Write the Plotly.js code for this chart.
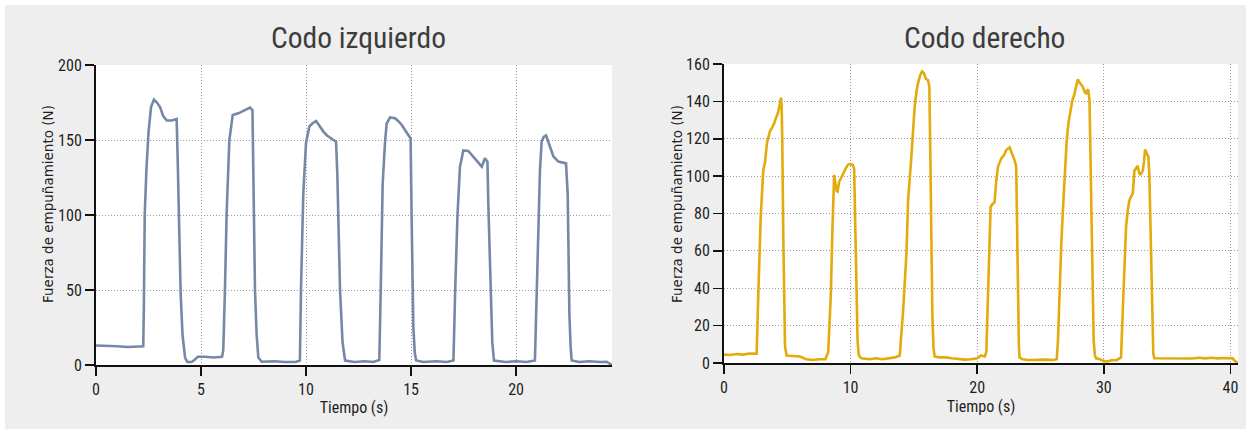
<!DOCTYPE html>
<html>
<head>
<meta charset="utf-8">
<script src="https://cdn.plot.ly/plotly-3.0.1.min.js"></script>
<style>
  html, body { margin: 0; padding: 0; background: #ffffff; }
  #chart { width: 1251px; height: 434px; }
</style>
</head>
<body>
<div id="chart"></div>
<script>
// Grip force over time, left elbow
const leftTime = [
  0, 0.3, 0.6, 1.0, 1.5, 2.0, 2.25, 2.28, 2.32, 2.4, 2.5, 2.62, 2.76, 2.9, 3.05, 3.2, 3.37, 3.6, 3.84,
  3.89, 3.95, 4.03, 4.12, 4.24, 4.35, 4.55, 4.7, 4.85, 5.2, 5.6, 6.0, 6.06, 6.14, 6.22, 6.35, 6.51,
  6.78, 7.1, 7.33, 7.45, 7.49, 7.57, 7.65, 7.73, 7.89, 8.5, 9.0, 9.5, 9.71, 9.76, 9.87, 10.0, 10.16,
  10.3, 10.48, 10.65, 10.83, 11.0, 11.14, 11.3, 11.43, 11.49, 11.56, 11.62, 11.74, 11.86, 12.3, 12.8,
  13.2, 13.49, 13.56, 13.65, 13.76, 13.84, 14.0, 14.24, 14.4, 14.56, 14.72, 14.87, 14.98, 15.03, 15.11,
  15.18, 15.24, 15.6, 16.2, 16.7, 17.02, 17.1, 17.21, 17.33, 17.49, 17.73, 17.97, 18.1, 18.21, 18.37,
  18.52, 18.64, 18.68, 18.79, 18.87, 18.95, 19.5, 20.0, 20.5, 20.9, 20.99, 21.06, 21.14, 21.22, 21.32,
  21.43, 21.62, 21.78, 22.02, 22.2, 22.38, 22.46, 22.54, 22.6, 22.65, 23.0, 23.5, 24.0, 24.32, 24.45, 24.57
];
const leftForce = [
  13, 13, 12.5, 12.5, 12, 12.5, 12.5, 40, 100, 130, 155, 172, 177, 175, 172, 166, 163, 163, 164,
  137, 95, 48, 20, 5, 2, 2, 3.5, 5.5, 5.5, 5, 5.5, 10, 50, 101, 150, 166.7,
  167.8, 170, 171.6, 170, 130, 50, 20, 5, 2.2, 2.5, 2, 2, 3, 50, 114, 148, 159,
  161, 162.7, 159, 155.6, 153, 151.8, 150, 148.9, 128, 80, 50, 15, 3, 2, 2.5,
  2, 3.3, 52, 121, 148, 161, 165, 164.5, 162.5, 160, 156.5, 153, 151, 96.7, 25.6,
  8, 3, 2, 2.5, 2, 3, 48, 99, 132, 143, 142.7, 138.9, 136.5, 134.4, 132.2,
  137.8, 135.5, 107.8, 48, 15, 3, 2, 2.5, 2, 3, 52, 92, 130, 149, 152,
  153, 145.6, 139, 135.6, 134.8, 134.4, 114, 34.4, 12, 3, 2, 2.5, 2, 2.2, 1, 0
];

// Grip force over time, right elbow
const rightTime = [
  0, 0.5, 1.0, 1.5, 2.0, 2.58, 2.71, 2.9, 3.1, 3.25, 3.4, 3.63, 3.8, 3.95, 4.1, 4.27, 4.4, 4.5,
  4.55, 4.6, 4.68, 4.74, 4.82, 4.94, 5.5, 6.0, 6.5, 7.0, 7.5, 8.0, 8.23, 8.44, 8.57, 8.7, 8.8, 8.9,
  8.97, 9.1, 9.25, 9.41, 9.6, 9.78, 9.95, 10.17, 10.28, 10.38, 10.46, 10.55, 10.65, 10.86, 11.5,
  12.0, 12.5, 13.0, 13.5, 13.88, 14.15, 14.41, 14.54, 14.78, 14.92, 15.06, 15.2, 15.32, 15.5, 15.64,
  15.8, 15.95, 16.11, 16.22, 16.3, 16.38, 16.46, 16.55, 16.64, 17.0, 17.5, 18.0, 18.5, 19.0, 19.5,
  20.0, 20.3, 20.6, 20.72, 20.85, 20.95, 21.06, 21.2, 21.37, 21.5, 21.64, 21.9, 22.1, 22.3, 22.56,
  22.75, 22.95, 23.08, 23.15, 23.22, 23.29, 23.34, 23.6, 24.0, 24.5, 25.0, 25.5, 26.0, 26.28, 26.38,
  26.5, 26.65, 26.81, 26.95, 27.07, 27.2, 27.34, 27.5, 27.68, 27.82, 27.95, 28.1, 28.34, 28.5, 28.6,
  28.7, 28.76, 28.87, 28.92, 29.0, 29.1, 29.2, 29.3, 29.39, 29.7, 30.0, 30.3, 30.6, 31.0, 31.36,
  31.49, 31.6, 31.76, 31.9, 32.02, 32.15, 32.29, 32.42, 32.55, 32.68, 32.78, 32.87, 33.0, 33.08,
  33.18, 33.26, 33.4, 33.52, 33.6, 33.68, 33.76, 33.85, 33.91, 33.99, 34.5, 35.0, 35.5, 36.0, 36.5,
  37.0, 37.5, 38.0, 38.5, 39.0, 39.5, 40.0, 40.17, 40.3, 40.43, 40.55
];
const rightForce = [
  4.5, 4.3, 4.8, 4.5, 5, 5, 37, 78, 103, 108, 118, 124, 126, 128, 131, 134, 138, 142,
  138, 120, 70, 44, 9, 4, 3.7, 3.5, 2, 1.6, 2, 2, 5.8, 37, 73, 100.6, 96, 92,
  91.7, 97, 99, 101.5, 104, 106, 106.5, 106, 104, 70, 35, 12, 4, 2.5, 2,
  2.5, 2, 2.5, 3, 4, 28, 58.6, 87, 108.6, 125, 137, 145, 149.6, 154, 156,
  155, 152, 151.4, 148, 110, 60, 25, 8, 3.5, 3, 3, 2.5, 2, 1.8, 2,
  2.5, 4, 3.5, 6, 37, 60, 83.6, 85, 86, 97, 105, 109.5, 111, 114, 115.4,
  112, 108.6, 105, 70, 30, 10, 3, 2, 1.6, 1.8, 1.6, 1.8, 1.6, 2, 12,
  37, 65, 87, 105, 119, 128, 135, 140, 144, 148, 151.8, 150, 147.8, 145, 144,
  146, 146.4, 140.7, 120, 80, 40, 12, 4, 2.5, 2, 1, 0.8, 1.5, 1.5, 3,
  26.6, 50, 73, 82, 87, 89, 90.8, 103, 104, 105.5, 102, 100.6, 102, 103,
  108, 114.3, 112, 110.4, 100, 70, 40, 12, 5, 2.5, 2.5, 2.2, 2.5, 2.2, 2.6,
  2.4, 2.8, 2.5, 2.8, 2.5, 2.7, 2.5, 2.5, 1.5, 0.5, 0
];

const leftXTicks = [0, 5, 10, 15, 20];
const leftYTicks = [0, 50, 100, 150, 200];
const rightXTicks = [0, 10, 20, 30, 40];
const rightYTicks = [0, 20, 40, 60, 80, 100, 120, 140, 160];

const titleLeft = 'Codo izquierdo';
const titleRight = 'Codo derecho';
const xTitle = 'Tiempo (s)';
const yTitle = 'Fuerza de empuñamiento (N)';

const narrow = '"Liberation Sans Narrow", "Arial Narrow", "Roboto Condensed", "DejaVu Sans Condensed", "Liberation Sans", sans-serif';
const regular = '"DejaVu Sans", Verdana, sans-serif';

function xAxis(domain, range, ticks, anchor) {
  return {
    domain: domain, range: range, anchor: anchor,
    tickvals: ticks, ticktext: ticks.map(String),
    showline: true, linecolor: '#111111', linewidth: 2,
    ticks: 'outside', ticklen: 9, tickwidth: 1.5, tickcolor: '#111111',
    tickfont: { family: narrow, size: 16, color: '#1e1e1e' },
    showgrid: true, gridcolor: '#9c9c9c', gridwidth: 1, griddash: '1px,2px',
    zeroline: false, fixedrange: true,
    title: { text: xTitle, font: { family: narrow, size: 16, color: '#1e1e1e' }, standoff: 4 }
  };
}
function yAxis(domain, range, ticks, anchor) {
  return {
    domain: domain, range: range, anchor: anchor,
    tickvals: ticks, ticktext: ticks.map(String),
    showline: true, linecolor: '#111111', linewidth: 2,
    ticks: 'outside', ticklen: 9, tickwidth: 1.5, tickcolor: '#111111',
    tickfont: { family: narrow, size: 16, color: '#1e1e1e' },
    showgrid: true, gridcolor: '#9c9c9c', gridwidth: 1, griddash: '1px,2px',
    zeroline: false, fixedrange: true,
    title: { text: '' }
  };
}

const W = 1251, H = 434;
const px = v => v / W;
const py = v => 1 - v / H;

const traces = [
  { x: leftTime, y: leftForce, xaxis: 'x', yaxis: 'y', type: 'scatter', mode: 'lines',
    line: { color: '#7589a6', width: 2.6 }, hoverinfo: 'skip' },
  { x: rightTime, y: rightForce, xaxis: 'x2', yaxis: 'y2', type: 'scatter', mode: 'lines',
    line: { color: '#e3aa0b', width: 2.6 }, hoverinfo: 'skip' }
];

// Panel headings and vertical axis captions
function heading(text, cx) {
  return { text: text, xref: 'paper', yref: 'paper', x: px(cx), y: py(38),
    xanchor: 'center', yanchor: 'middle', showarrow: false,
    font: { family: narrow, size: 29.5, color: '#3c3c3c' } };
}
function yCaption(cx) {
  return { text: yTitle, xref: 'paper', yref: 'paper', x: px(cx), y: py(204),
    xanchor: 'center', yanchor: 'middle', textangle: -90, showarrow: false,
    font: { family: regular, size: 13.5, color: '#1e1e1e' } };
}

const layout = {
  width: W, height: H,
  margin: { l: 0, r: 0, t: 0, b: 0 },
  paper_bgcolor: '#eeeeee',
  plot_bgcolor: '#ffffff',
  showlegend: false,
  xaxis: xAxis([px(96), px(612)], [0, 24.57], leftXTicks, 'y'),
  yaxis: yAxis([py(365), py(65)], [0, 200], leftYTicks, 'x'),
  xaxis2: xAxis([px(724), px(1238)], [0, 40.6], rightXTicks, 'y2'),
  yaxis2: yAxis([py(363), py(64)], [0, 160], rightYTicks, 'x2'),
  annotations: [heading(titleLeft, 359), heading(titleRight, 985), yCaption(48), yCaption(677)],
  shapes: [
    { type: 'rect', xref: 'paper', yref: 'paper', x0: 0, x1: 1, y0: 0, y1: 1,
      line: { color: '#ffffff', width: 10 }, fillcolor: 'rgba(0,0,0,0)', layer: 'below' }
  ]
};

Plotly.newPlot('chart', traces, layout, { staticPlot: true, displayModeBar: false });
</script>
</body>
</html>
